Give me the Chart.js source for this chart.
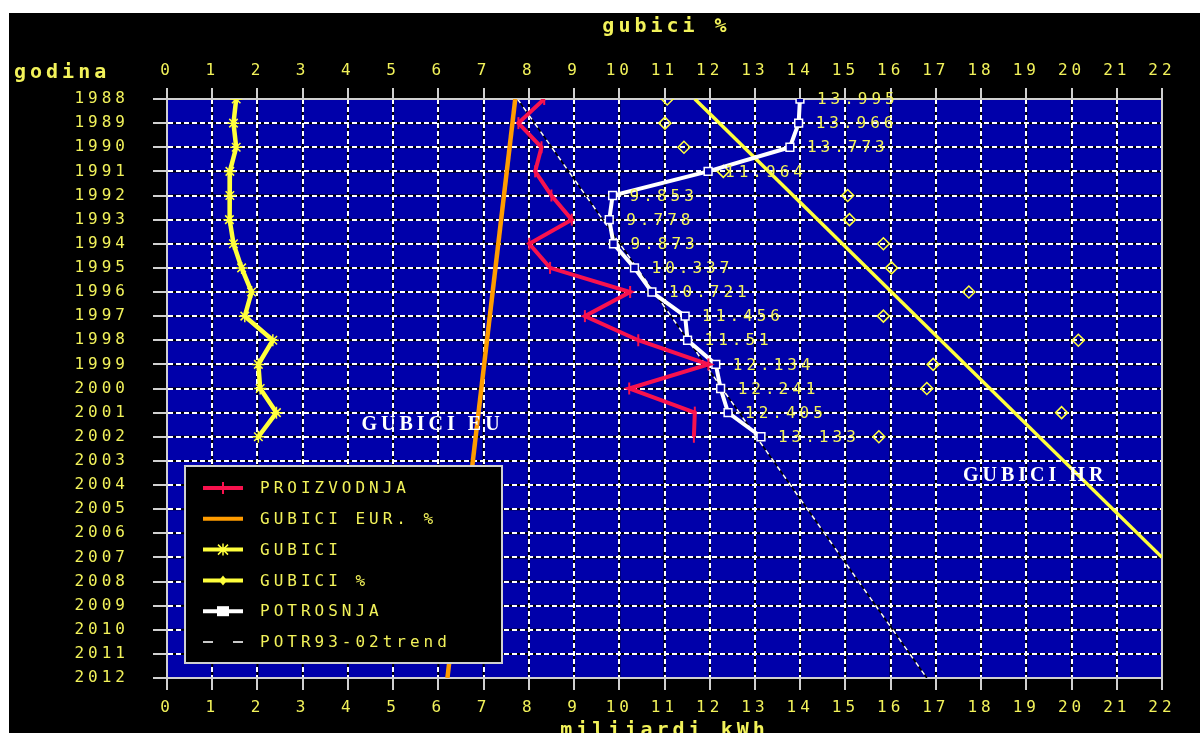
<!DOCTYPE html>
<html><head><meta charset="utf-8">
<script src="https://cdn.jsdelivr.net/npm/chart.js@4.4.0/dist/chart.umd.min.js"></script>
<style>
html,body{margin:0;padding:0;background:#fff;width:1200px;height:733px;overflow:hidden}
#wrap{position:absolute;left:9px;top:13px;width:1191px;height:720px;background:#000}
canvas{display:block}
</style></head><body>
<div id="wrap"><canvas id="c" width="1191" height="720"></canvas></div>
<script>
// ---- data ----
const YEARS = [1988,1989,1990,1991,1992,1993,1994,1995,1996,1997,1998,1999,2000,2001,2002];
const PROIZVODNJA = [8.34,7.77,8.28,8.14,8.50,8.95,8.01,8.47,10.24,9.24,10.42,11.97,10.22,11.67,11.65];
const GUBICI = [1.53,1.47,1.53,1.39,1.39,1.38,1.47,1.65,1.87,1.72,2.34,2.02,2.06,2.42,2.02];
const GUBICI_PCT = [11.06,11.01,11.43,12.30,15.05,15.09,15.84,16.02,17.73,15.84,20.15,16.94,16.80,19.78,15.74];
const POTROSNJA = [13.995,13.966,13.773,11.964,9.853,9.778,9.873,10.337,10.721,11.456,11.51,12.134,12.241,12.405,13.133];
const EUR_YEARS = [1988, 2012];
const GUBICI_EUR = [7.7, 6.2];
const HR_YEARS = [1988, 2007];
const GUBICI_HR = [11.67, 22];
const TREND_YEARS = [1988, 2012];
const TREND = [7.75, 16.8];
const X_MIN = 0, X_MAX = 22;
const Y_MIN = 1988, Y_MAX = 2012;
const TITLE_TOP = 'gubici %';
const TITLE_BOTTOM = 'milijardi kWh';
const TITLE_LEFT = 'godina';
const NOTE_EU = 'GUBICI EU';
const NOTE_HR = 'GUBICI HR';

// ---- styles ----
const BLUE = '#0000aa';
const RED = '#f8124e';
const ORANGE = '#ff9c00';
const YELLOW = '#ffff3c';
const WHITE = '#ffffff';
const TXT = '#f2f25a';
const FRAME = '#d0d0d0';
const MONO = "'DejaVu Sans Mono', monospace";

const pts = (xs, ys) => xs.map((v, i) => ({x: v, y: ys[i]}));

const datasets = [
  {label:'PROIZVODNJA', data: pts(PROIZVODNJA, YEARS), borderColor: RED, backgroundColor: RED, borderWidth: 4,
   pointStyle:'line', pointRotation: 90, pointRadius: 6, pointBorderWidth: 2, pointBorderColor: RED, legend:{pos:0, marker:'vtick'}},
  {label:'POTROSNJA', data: pts(POTROSNJA, YEARS), borderColor: WHITE, backgroundColor: WHITE, borderWidth: 4,
   pointStyle:'rect', pointRadius: 5.5, pointBorderWidth: 1.5, pointBorderColor: WHITE, pointBackgroundColor: BLUE, legend:{pos:4, marker:'square'}, valueLabels:true},
  {label:'GUBICI', data: pts(GUBICI, YEARS), borderColor: YELLOW, backgroundColor: YELLOW, borderWidth: 4.5,
   pointStyle:'star', pointRadius: 6, pointBorderWidth: 1.5, pointBorderColor: YELLOW, legend:{pos:2, marker:'star'}},
  {label:'GUBICI %', data: pts(GUBICI_PCT, YEARS), borderColor: YELLOW, backgroundColor: 'rgba(0,0,0,0)', showLine:false,
   pointStyle:'rectRot', pointRadius: 6, pointBorderWidth: 1.5, pointBorderColor: YELLOW, xAxisID:'x2', legend:{pos:3, marker:'diamond'}},
  {label:'GUBICI EUR. %', data: pts(GUBICI_EUR, EUR_YEARS), borderColor: ORANGE, borderWidth: 4.5, pointRadius: 0, xAxisID:'x2', legend:{pos:1}},
  {label:'GUBICI HR', data: pts(GUBICI_HR, HR_YEARS), borderColor: YELLOW, borderWidth: 3.5, pointRadius: 0, xAxisID:'x2'},
  {label:'POTR93-02trend', data: pts(TREND, TREND_YEARS), borderColor: WHITE, borderWidth: 1.5, borderDash:[5,5], pointRadius: 0, legend:{pos:5, dash:true}},
  {label:'POTR93-02trend-base', data: pts(TREND, TREND_YEARS), borderColor: '#000', borderWidth: 1.5, pointRadius: 0},
];

const spacing = {
  id:'spacing',
  beforeUpdate(c){ c.ctx.letterSpacing = '4px'; },
  beforeLayout(c){ c.ctx.letterSpacing = '4px'; },
  beforeDraw(c){ c.ctx.letterSpacing = '4px'; }
};

const background = {
  id:'background',
  beforeDraw(c){
    const {ctx, chartArea:a, scales} = c;
    ctx.save();
    ctx.fillStyle = BLUE;
    ctx.fillRect(a.left, a.top, a.right - a.left, a.bottom - a.top);
    ctx.strokeStyle = '#000';
    ctx.lineWidth = 2;
    ctx.beginPath();
    scales.x.ticks.forEach(t => { const p = scales.x.getPixelForValue(t.value); ctx.moveTo(p, a.top); ctx.lineTo(p, a.bottom); });
    scales.y.ticks.forEach(t => { const p = scales.y.getPixelForValue(t.value); ctx.moveTo(a.left, p); ctx.lineTo(a.right, p); });
    ctx.stroke();
    ctx.restore();
  },
  beforeDatasetsDraw(c){
    const {ctx, chartArea:a} = c;
    ctx.save();
    ctx.strokeStyle = FRAME;
    ctx.lineWidth = 2;
    ctx.strokeRect(a.left, a.top, a.right - a.left, a.bottom - a.top);
    ctx.restore();
  }
};

function legendMarker(ctx, kind, color, x, y) {
  ctx.strokeStyle = color;
  ctx.fillStyle = color;
  ctx.lineWidth = 2;
  ctx.beginPath();
  if (kind === 'vtick') {
    ctx.moveTo(x, y - 6); ctx.lineTo(x, y + 6); ctx.stroke();
  } else if (kind === 'star') {
    ctx.lineWidth = 1.5;
    ctx.moveTo(x, y - 6); ctx.lineTo(x, y + 6);
    ctx.moveTo(x - 5, y - 5); ctx.lineTo(x + 5, y + 5);
    ctx.moveTo(x - 5, y + 5); ctx.lineTo(x + 5, y - 5);
    ctx.stroke();
  } else if (kind === 'diamond') {
    ctx.moveTo(x, y - 5); ctx.lineTo(x + 4, y); ctx.lineTo(x, y + 5); ctx.lineTo(x - 4, y); ctx.closePath();
    ctx.fill();
  } else if (kind === 'square') {
    ctx.fillRect(x - 6, y - 5, 12, 10);
  }
}

const overlay = {
  id:'overlay',
  afterDatasetsDraw(c){
    const {ctx, chartArea:a, scales} = c;
    const xs = scales.x, ys = scales.y;
    ctx.save();
    // value labels for POTROSNJA
    ctx.font = '16px ' + MONO;
    ctx.letterSpacing = '4px';
    ctx.fillStyle = TXT;
    ctx.textAlign = 'left';
    ctx.textBaseline = 'middle';
    c.data.datasets.forEach((ds, di) => {
      if (!ds.valueLabels) return;
      const meta = c.getDatasetMeta(di);
      meta.data.forEach((el, i) => {
        ctx.fillText(String(ds.data[i].x), el.x + 17, el.y + 1);
      });
    });
    // annotations
    ctx.font = 'bold 20px "Liberation Serif", serif';
    ctx.letterSpacing = '4px';
    ctx.fillStyle = WHITE;
    ctx.fillText(NOTE_EU, xs.getPixelForValue(4.3), ys.getPixelForValue(2001.5));
    ctx.fillText(NOTE_HR, xs.getPixelForValue(17.6), ys.getPixelForValue(2003.6));

    // legend
    const L = a.left + 18, T = a.top + 367, W = 317, H = 197;
    ctx.fillStyle = '#000';
    ctx.fillRect(L, T, W, H);
    ctx.strokeStyle = FRAME;
    ctx.lineWidth = 2;
    ctx.strokeRect(L, T, W, H);
    const items = c.data.datasets.filter(d => d.legend).sort((p, q) => p.legend.pos - q.legend.pos);
    items.forEach((d, i) => {
      const y = T + 22 + i * 30.8;
      const x1 = L + 18, x2 = L + 58, xm = (x1 + x2) / 2;
      const lg = d.legend;
      ctx.save();
      if (lg.dash) {
        ctx.strokeStyle = '#c8c8c8';
        ctx.lineWidth = 2;
        ctx.beginPath();
        ctx.moveTo(x1, y); ctx.lineTo(x1 + 10, y);
        ctx.moveTo(x2 - 10, y); ctx.lineTo(x2, y);
        ctx.stroke();
      } else {
        ctx.strokeStyle = d.borderColor;
        ctx.lineWidth = 4;
        ctx.beginPath(); ctx.moveTo(x1, y); ctx.lineTo(x2, y); ctx.stroke();
        if (lg.marker) legendMarker(ctx, lg.marker, d.pointBorderColor || d.borderColor, xm, y);
      }
      ctx.restore();
      ctx.font = '16px ' + MONO;
      ctx.letterSpacing = '4px';
      ctx.fillStyle = TXT;
      ctx.textAlign = 'left';
      ctx.textBaseline = 'middle';
      ctx.fillText(d.label, L + 75, y + 1);
    });
    ctx.restore();
  },
  afterDraw(c){
    const {ctx, chartArea:a} = c;
    ctx.save();
    ctx.font = 'bold 20px ' + MONO;
    ctx.letterSpacing = '4px';
    ctx.fillStyle = TXT;
    ctx.textBaseline = 'alphabetic';
    ctx.textAlign = 'left';
    ctx.fillText(TITLE_LEFT, 5, 65);
    ctx.textAlign = 'center';
    const cx = (a.left + a.right) / 2;
    ctx.fillText(TITLE_TOP, cx + 2, 19);
    ctx.fillText(TITLE_BOTTOM, cx, 723);
    ctx.restore();
  }
};

const tickFont = {family: MONO, size: 16};
const gridCommon = {color: WHITE, lineWidth: 2, tickColor: FRAME, tickWidth: 2, tickBorderDash: []};

new Chart(document.getElementById('c'), {
  type: 'line',
  data: {datasets},
  options: {
    responsive: false,
    devicePixelRatio: 1,
    animation: false,
    events: [],
    layout: {padding: {left: 0, top: 0, right: 38, bottom: 0}},
    elements: {line: {tension: 0, fill: false}},
    plugins: {legend: {display: false}, tooltip: {enabled: false}},
    scales: {
      x: {type:'linear', position:'bottom', min:X_MIN, max:X_MAX,
          ticks:{stepSize:1, autoSkip:false, maxRotation:0, color:TXT, font:tickFont, padding:8},
          grid:{...gridCommon, tickLength:12},
          border:{color:FRAME, width:2, dash:[5,3]},
          afterFit(s){ s.height = 55; }},
      x2:{type:'linear', position:'top', min:X_MIN, max:X_MAX,
          ticks:{stepSize:1, autoSkip:false, maxRotation:0, color:TXT, font:tickFont, padding:8},
          grid:{...gridCommon, drawOnChartArea:false, tickLength:11},
          border:{color:FRAME, width:2},
          afterFit(s){ s.height = 86; }},
      y: {type:'linear', position:'left', min:Y_MIN, max:Y_MAX, reverse:true,
          ticks:{stepSize:1, autoSkip:false, color:TXT, font:tickFont, padding:24, callback:v => String(v)},
          grid:{...gridCommon, tickLength:14},
          border:{color:FRAME, width:2, dash:[5,3]},
          afterFit(s){ s.width = 158; }}
    }
  },
  plugins: [spacing, background, overlay]
});
</script>
</body></html>
